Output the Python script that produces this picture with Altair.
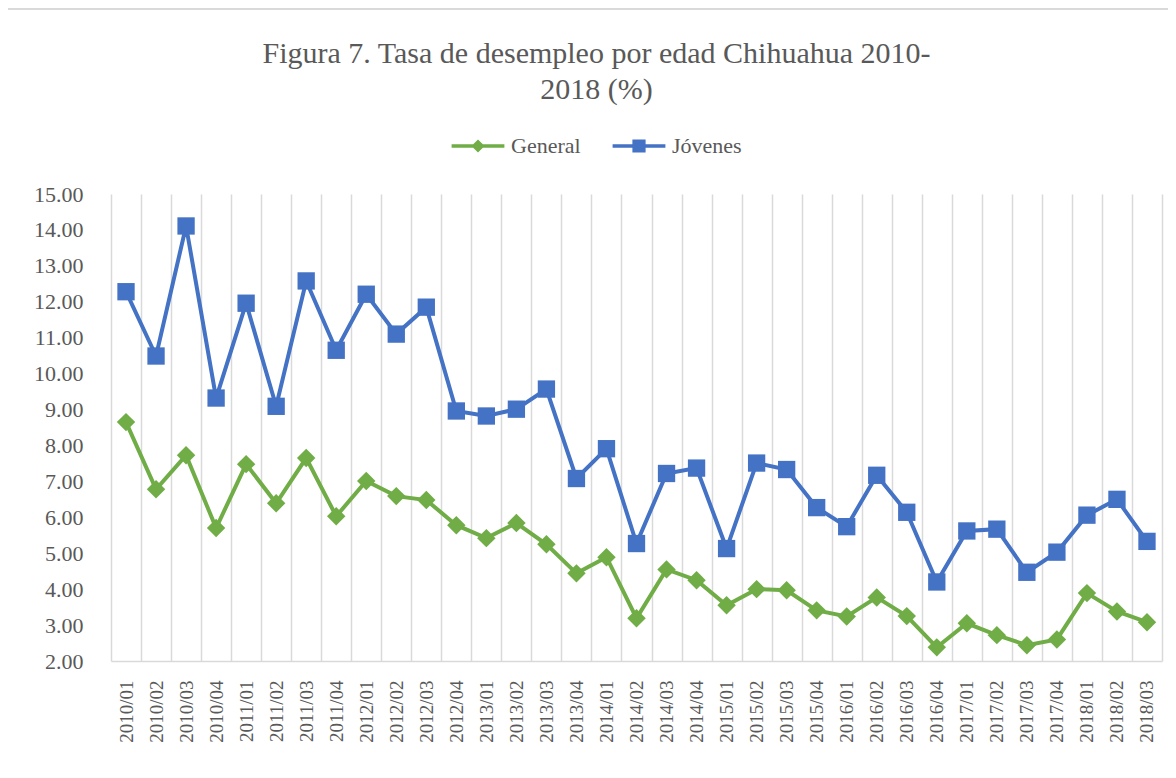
import altair as alt
import pandas as pd

periodos = [
    "2010/01", "2010/02", "2010/03", "2010/04",
    "2011/01", "2011/02", "2011/03", "2011/04",
    "2012/01", "2012/02", "2012/03", "2012/04",
    "2013/01", "2013/02", "2013/03", "2013/04",
    "2014/01", "2014/02", "2014/03", "2014/04",
    "2015/01", "2015/02", "2015/03", "2015/04",
    "2016/01", "2016/02", "2016/03", "2016/04",
    "2017/01", "2017/02", "2017/03", "2017/04",
    "2018/01", "2018/02", "2018/03",
]

general = [
    8.65, 6.78, 7.73, 5.70,
    7.48, 6.39, 7.65, 6.03,
    7.01, 6.59, 6.48, 5.78,
    5.42, 5.84, 5.25, 4.44,
    4.89, 3.19, 4.55, 4.25,
    3.55, 4.00, 3.97, 3.41,
    3.24, 3.77, 3.25, 2.38,
    3.05, 2.72, 2.44, 2.60,
    3.89, 3.38, 3.08,
]

jovenes = [
    12.28, 10.49, 14.11, 9.32,
    11.96, 9.09, 12.58, 10.65,
    12.21, 11.10, 11.85, 8.96,
    8.82, 9.01, 9.57, 7.08,
    7.91, 5.27, 7.22, 7.37,
    5.13, 7.51, 7.33, 6.27,
    5.74, 7.17, 6.14, 4.20,
    5.62, 5.67, 4.47, 5.03,
    6.06, 6.50, 5.33,
]

series = ["General", "Jóvenes"]
colores = ["#70AD47", "#4472C4"]
tick_vals = [2, 3, 4, 5, 6, 7, 8, 9, 10, 11, 12, 13, 14, 15]

titulo = ["Figura 7. Tasa de desempleo por edad Chihuahua 2010-", "2018 (%)"]

df = pd.DataFrame({
    "periodo": periodos * 2,
    "serie": ["General"] * len(periodos) + ["Jóvenes"] * len(periodos),
    "valor": general + jovenes,
})

FONT = "Liberation Serif"
GRAY = "#595959"
W, H = 1051, 467

x_enc = alt.X(
    "periodo:N",
    sort=periodos,
    scale=alt.Scale(type="band", paddingInner=0, paddingOuter=0),
    axis=alt.Axis(
        title=None, labelAngle=-90, labelFont=FONT, labelFontSize=19,
        labelColor=GRAY, labelPadding=19, ticks=False, grid=True,
        gridColor="#d9d9d9", gridWidth=1.5, tickBand="extent",
        domainColor="#d9d9d9", domainWidth=1.5,
    ),
)
y_enc = alt.Y(
    "valor:Q",
    scale=alt.Scale(domain=[2, 15], nice=False, zero=False),
    axis=alt.Axis(
        title=None, values=tick_vals, format=".2f", labelFont=FONT,
        labelFontSize=22, labelColor=GRAY, labelPadding=28, ticks=False,
        grid=False, domain=False,
    ),
)
# colour scale: domain taken from the data (General, Jóvenes in sorted order)
color_enc = alt.Color(
    "serie:N",
    scale=alt.Scale(range=colores),
    legend=None,
)

base = alt.Chart(df)

lineas = base.mark_line(strokeWidth=4).encode(x=x_enc, y=y_enc, color=color_enc)

rombos = base.transform_filter(alt.datum.serie == "General").mark_point(
    filled=True, shape="diamond", size=340, opacity=1
).encode(x=x_enc, y=y_enc, color=color_enc)

cuadros = base.transform_filter(alt.datum.serie == "Jóvenes").mark_point(
    filled=True, shape="square", size=300, opacity=1
).encode(x=x_enc, y=y_enc, color=color_enc)

diamond_path = "M-4.4,-0.3L4.4,-0.3L4.4,0.3L-4.4,0.3Z M0,-1.1L1.1,0L0,1.1L-1.1,0Z"
square_path = "M-4.4,-0.3L4.4,-0.3L4.4,0.3L-4.4,0.3Z M-1.1,-1.1L1.1,-1.1L1.1,1.1L-1.1,1.1Z"

leg_props = dict(
    title=None, orient="none", legendX=356, legendY=-59,
    direction="horizontal", symbolSize=144, symbolOpacity=1,
    labelFont=FONT, labelFontSize=22, labelColor=GRAY,
    labelOffset=22, columnPadding=28,
)

leyenda = base.mark_point(filled=True, opacity=0).encode(
    x=x_enc,
    y=y_enc,
    fill=alt.Fill(
        "serie:N",
        scale=alt.Scale(domain=series, range=colores),
        legend=alt.Legend(**leg_props),
    ),
    shape=alt.Shape(
        "serie:N",
        scale=alt.Scale(domain=series, range=[diamond_path, square_path]),
        legend=alt.Legend(**leg_props),
    ),
)

borde = alt.Chart(alt.Data(values=[{"k": 1}])).mark_rect(
    filled=False, stroke="#d9d9d9", strokeWidth=2
).encode(
    x=alt.value(-104), x2=alt.value(W + 40),
    y=alt.value(-185), y2=alt.value(H + 140),
)

chart = alt.layer(borde, lineas, rombos, cuadros, leyenda).properties(
    width=W,
    height=H,
    autosize=alt.AutoSizeParams(type="none"),
    padding={"left": 103, "top": 186, "right": 6, "bottom": 109},
    title=alt.TitleParams(
        text=titulo, font=FONT, fontSize=30, fontWeight="normal",
        color=GRAY, anchor="middle", frame="group", lineHeight=36,
        dx=-40, dy=97, offset=0,
    ),
).configure(background="white").configure_view(stroke=None)

chart.save("out.html", embed_options={"renderer": "svg", "actions": False})
